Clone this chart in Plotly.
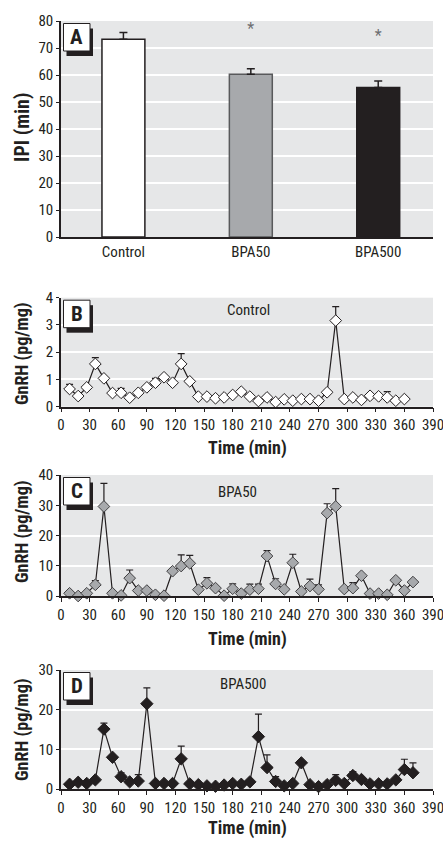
import plotly.graph_objects as go

# ---------------- data ----------------
ipi_groups = ["Control", "BPA50", "BPA500"]
ipi_mean = [73.2, 60.3, 55.4]
ipi_sem = [2.5, 2.0, 2.4]
ipi_star = [None, 76.6, 74.0]

t_control = [9, 18, 27, 36, 45, 54, 63, 72, 81, 90, 99, 108, 117, 126, 135, 144, 153, 162, 171, 180,
             189, 198, 207, 216, 225, 234, 243, 252, 261, 270, 279, 288, 297, 306, 315, 324, 333, 342, 351, 360]
gnrh_control = [0.65, 0.39, 0.71, 1.57, 1.04, 0.50, 0.51, 0.33, 0.51, 0.71, 0.88, 1.08, 0.88, 1.57, 0.93, 0.37,
                0.37, 0.31, 0.34, 0.43, 0.55, 0.37, 0.21, 0.34, 0.17, 0.27, 0.22, 0.28, 0.28, 0.22, 0.53, 3.16,
                0.28, 0.34, 0.25, 0.40, 0.38, 0.34, 0.22, 0.28]
err_control = [0.17, None, None, 0.23, None, None, 0.16, None, None, None, 0.16, None, None, 0.38, None, None,
               None, None, None, None, None, None, None, None, None, None, None, None, None, None, None, 0.51,
               None, None, None, None, None, 0.21, None, None]

t_bpa50 = [9, 18, 27, 36, 45, 54, 63, 72, 81, 90, 99, 108, 117, 126, 135, 144, 153, 162, 171, 180, 189,
           198, 207, 216, 225, 234, 243, 252, 261, 270, 279, 288, 297, 306, 315, 324, 333, 342, 351, 360, 369]
gnrh_bpa50 = [0.9, 0.0, 0.9, 3.7, 29.6, 0.9, 0.2, 5.9, 1.8, 1.8, 0.4, 0.1, 8.2, 9.9, 10.8, 2.1, 4.2, 2.6,
              0.1, 2.4, 0.8, 2.1, 2.4, 13.2, 4.0, 2.2, 11.0, 1.5, 3.3, 2.2, 27.4, 29.6, 2.3, 2.6, 6.7, 0.8,
              0.8, 0.4, 5.2, 1.8, 4.6]
err_bpa50 = [None, None, None, 1.4, 7.6, None, None, 2.7, None, None, None, None, None, 3.7, 2.6, None, 1.9,
             None, None, 1.6, None, 1.8, 1.5, 1.8, 1.7, None, 2.8, None, 2.3, 1.5, 3.1, 5.9, None, 1.8,
             None, None, None, None, None, None, None]

t_bpa500 = [9, 18, 27, 36, 45, 54, 63, 72, 81, 90, 99, 108, 117, 126, 135, 144, 153, 162, 171, 180, 189,
            198, 207, 216, 225, 234, 243, 252, 261, 270, 279, 288, 297, 306, 315, 324, 333, 342, 351, 360, 369]
gnrh_bpa500 = [1.2, 1.7, 1.4, 2.3, 15.1, 8.0, 3.1, 1.8, 2.0, 21.5, 1.4, 1.4, 1.4, 7.6, 1.3, 1.1, 0.8, 0.7,
               1.0, 1.4, 1.2, 1.8, 13.2, 5.4, 1.9, 0.8, 1.4, 6.6, 1.1, 0.6, 1.1, 2.2, 1.4, 3.4, 2.4, 1.3,
               1.3, 1.3, 2.3, 4.9, 4.1]
err_bpa500 = [None, None, None, None, 1.5, None, 1.0, None, 1.6, 4.0, None, None, None, 3.2, None, None, None,
              None, None, None, None, None, 5.7, 3.2, 1.2, None, None, None, None, None, None, 1.4, None, 1.0,
              None, None, None, None, None, 2.6, 2.5]

time_ticks = list(range(0, 391, 30))

# ---------------- style ----------------
W, H = 443, 842
FONT = "Roboto Condensed, Roboto, Arial Narrow, sans-serif"
INK = "#231f20"
BG = "#e6e7e8"

def py(px):
    return 1 - px / H

def pxx(px):
    return px / W

fig = go.Figure()

# Panel A bars
fig.add_trace(go.Bar(
    x=ipi_groups, y=ipi_mean, width=0.337,
    marker=dict(color=["#ffffff", "#a7a9ac", "#231f20"], line=dict(color=["#231f20", "#58595b", "#231f20"], width=1.5)),
    error_y=dict(type="data", array=ipi_sem, arrayminus=[0, 0, 0], symmetric=False,
                 color=INK, thickness=1.5, width=4),
    xaxis="x", yaxis="y", showlegend=False))
fig.add_trace(go.Scatter(
    x=ipi_groups, y=ipi_star, mode="text", text=["", "*", "*"],
    textfont=dict(family=FONT, size=16, color="#6d6e71"),
    xaxis="x", yaxis="y", showlegend=False))

def series(t, v, e, fill, outline, size, ax):
    fig.add_trace(go.Scatter(
        x=t, y=v, mode="lines+markers",
        line=dict(color=INK, width=1.2),
        marker=dict(symbol="diamond", size=size, color=fill, line=dict(color=outline, width=1)),
        error_y=dict(type="data", array=e, arrayminus=[0] * len(e), symmetric=False,
                     color=INK, thickness=1.2, width=3.5),
        xaxis="x" + ax, yaxis="y" + ax, showlegend=False, cliponaxis=False))

series(t_control, gnrh_control, err_control, "#ffffff", INK, 9, "2")
series(t_bpa50, gnrh_bpa50, err_bpa50, "#a7a9ac", "#414042", 9, "3")
series(t_bpa500, gnrh_bpa500, err_bpa500, "#231f20", "#231f20", 9.5, "4")

xdom = [pxx(61), pxx(433)]
panels = {
    "A": (21, 237),
    "B": (297.7, 406.7),
    "C": (475, 596),
    "D": (670, 789),
}

tickfont = dict(family=FONT, size=15, color=INK)
common_y = dict(showline=True, linecolor=INK, linewidth=1.5, ticks="outside", ticklen=3,
                tickcolor=INK, tickfont=tickfont, showgrid=True, gridcolor="#ffffff", gridwidth=2,
                zeroline=False, fixedrange=True, ticklabeloverflow="allow")
common_x = dict(showline=True, linecolor=INK, linewidth=1.5, tickfont=tickfont, showgrid=False,
                zeroline=False, fixedrange=True, ticklabeloverflow="allow")

layout = dict(
    width=W, height=H, margin=dict(l=0, r=0, t=0, b=0, pad=0, autoexpand=False),
    paper_bgcolor="#ffffff", plot_bgcolor=BG, showlegend=False,
    xaxis=dict(domain=xdom, anchor="y", type="category", range=[-0.49, 2.43], ticks="", **common_x),
    yaxis=dict(domain=[py(panels["A"][1]), py(panels["A"][0])], anchor="x", range=[0, 80], dtick=10, **common_y),
)
yranges = {"2": [0, 4], "3": [0, 40], "4": [0, 30]}
ydticks = {"2": 1, "3": 10, "4": 10}
for ax, key in zip(["2", "3", "4"], ["B", "C", "D"]):
    top, bot = panels[key]
    layout["xaxis" + ax] = dict(domain=xdom, anchor="y" + ax, range=[0, 390], tickvals=time_ticks,
                                ticks="outside", ticklen=4, tickcolor=INK, **common_x)
    layout["yaxis" + ax] = dict(domain=[py(bot), py(top)], anchor="x" + ax, range=yranges[ax],
                                dtick=ydticks[ax], **common_y)
fig.update_layout(**layout)

# Panel letter boxes with drop shadow
shapes = []
annotations = []
for key in ["A", "B", "C", "D"]:
    top, bot = panels[key]
    bx0, bx1 = 63.5, 90
    by0, by1 = top + 2.5, top + 30
    shapes.append(dict(type="rect", xref="paper", yref="paper", x0=pxx(bx0 + 3), x1=pxx(bx1 + 3),
                       y0=py(by1 + 5), y1=py(by0 + 5), fillcolor=INK, line=dict(width=0)))
    shapes.append(dict(type="rect", xref="paper", yref="paper", x0=pxx(bx0), x1=pxx(bx1),
                       y0=py(by1), y1=py(by0), fillcolor="#ffffff", line=dict(color=INK, width=1)))
    annotations.append(dict(text="<b>%s</b>" % key, xref="paper", yref="paper", x=pxx((bx0 + bx1) / 2),
                            y=py((by0 + by1) / 2), showarrow=False, xanchor="center", yanchor="middle",
                            font=dict(family=FONT, size=21, color=INK)))
fig.update_layout(shapes=shapes)

title_font = dict(family=FONT, size=18, color=INK)
annotations.append(dict(text="<b>IPI (min)</b>", xref="paper", yref="paper", x=pxx(22), y=py(128),
                        textangle=-90, showarrow=False, xanchor="center", yanchor="middle",
                        font=dict(family=FONT, size=20, color=INK)))
for key, cy, tx, ttl, tyc in [("B", 354, "Control", 248, 310), ("C", 532, "BPA50", 237, 492),
                              ("D", 730, "BPA500", 243, 684)]:
    annotations.append(dict(text="<b>GnRH (pg/mg)</b>", xref="paper", yref="paper", x=pxx(22), y=py(cy),
                            textangle=-90, showarrow=False, xanchor="center", yanchor="middle",
                            font=dict(family=FONT, size=18, color=INK)))
    annotations.append(dict(text=tx, xref="paper", yref="paper", x=pxx(ttl), y=py(tyc), showarrow=False,
                            xanchor="center", yanchor="middle", font=dict(family=FONT, size=15, color=INK)))
for ty in [448, 639, 828]:
    annotations.append(dict(text="<b>Time (min)</b>", xref="paper", yref="paper", x=pxx(247), y=py(ty),
                            showarrow=False, xanchor="center", yanchor="middle", font=title_font))
fig.update_layout(annotations=annotations)

fig.write_html("out.html", config={"displayModeBar": False},
               post_script="document.body.style.margin='0';document.body.style.overflow='hidden';")
